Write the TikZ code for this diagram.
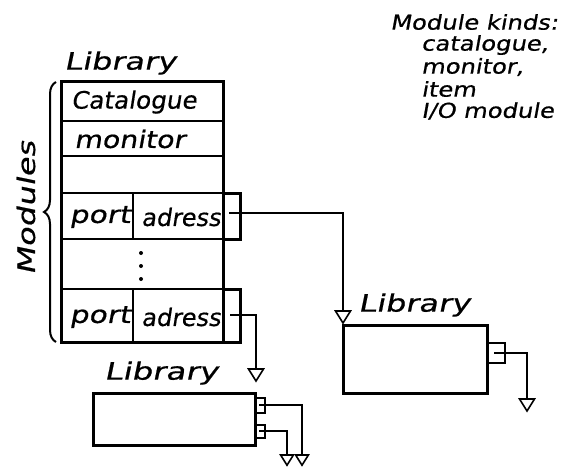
\documentclass[tikz,border=0pt]{standalone}
\usepackage{fontspec}
\usepackage{graphicx}
\newfontfamily\hand[FakeSlant=0.18,FakeStretch=1.18,FakeBold=0.6]{DejaVu Sans}
\newcommand\sx[2]{\scalebox{#1}[1]{#2}}
\usetikzlibrary{decorations.pathreplacing}
\tikzset{
  box/.style={line width=3pt},
  inner/.style={line width=2pt},
  wire/.style={line width=1.6pt},
  lbl/.style={font=\hand\fontsize{24}{26}\selectfont, inner sep=0pt},
  note/.style={font=\hand\fontsize{20.5}{23}\selectfont, inner sep=0pt, anchor=west},
  gnd/.pic={\draw[line width=1.6pt, fill=white] (-7.5,0) -- (7.5,0) -- (0,12) -- cycle;}
}
\begin{document}
\begin{tikzpicture}[x=1pt,y=-1pt]
\useasboundingbox[fill=white] (0,0) rectangle (569,468);

% main library
\node[lbl] (libA) at (120,63) {\sx{1.13}{Library}};
\coordinate (mTL) at (61,82);
\coordinate (mBR) at (223,342);
\draw[inner] (61,121) -- (223,121);
\draw[inner] (61,156) -- (223,156);
\draw[inner] (61,193) -- (240,193);
\draw[inner] (61,239) -- (240,239);
\draw[inner] (61,289) -- (240,289);
\draw[inner] (133,193) -- (133,239);
\draw[inner] (133,289) -- (133,342);
\draw[box] (223,193) rectangle (240,239);
\draw[box] (223,289) rectangle (240,342);
\draw[box] (mTL) rectangle (mBR);

\node[lbl, anchor=west] (cat) at (71,102) {\sx{0.87}{Catalogue}};
\node[lbl, anchor=west] (mon) at (74,139) {monitor};
\node[lbl] (p1) at (100,217) {\sx{1.05}{port}};
\node[lbl] (a1) at (181,217) {\sx{0.85}{adress}};
\node[lbl] (p2) at (100,317) {\sx{1.05}{port}};
\node[lbl] (a2) at (181,317) {\sx{0.85}{adress}};
\fill (141,253) circle (2);
\fill (141,266) circle (2);
\fill (141,279) circle (2);

% brace and Modules
\draw[inner, decorate, decoration={brace, amplitude=12pt}] (56,342) -- (56,82);
\node[lbl, rotate=90] (mods) at (26,208) {\sx{1.14}{Modules}};

% right library
\node[lbl] (libB) at (414,305) {\sx{1.13}{Library}};
\draw[box] (343,325) rectangle (487,393);
\draw[inner] (487,343) rectangle (505,363);

% bottom library
\node[lbl] (libC) at (161,373) {\sx{1.15}{Library}};
\draw[box] (93,393) rectangle (255,445);
\draw[inner] (255,398) rectangle (265,413);
\draw[inner] (255,425) rectangle (265,438);

% connectors
\coordinate (s1) at (229,213);
\coordinate (g1) at (343,311);
\coordinate (s2) at (230,315);
\coordinate (g2) at (256,369);
\coordinate (s3) at (494,353);
\coordinate (g3) at (527,399);
\coordinate (s4) at (259,405);
\coordinate (g4) at (302,455);
\coordinate (s5) at (259,431);
\coordinate (g5) at (287,455);
\draw[wire] (s1) -| (g1);
\draw[wire] (s2) -| (g2);
\draw[wire] (s3) -| (g3);
\draw[wire] (s4) -| (g4);
\draw[wire] (s5) -| (g5);
\pic at (g1) {gnd};
\pic at (g2) {gnd};
\pic at (g3) {gnd};
\pic[scale=0.85] at (g4) {gnd};
\pic[scale=0.85] at (g5) {gnd};

% notes
\node[note] (n1) at (390,22) {Module kinds:};
\node[note] (n2) at (421,45) {catalogue,};
\node[note] (n3) at (421,67) {monitor,};
\node[note] (n4) at (421,89) {item};
\node[note] (n5) at (421,111) {I/O module};
\end{tikzpicture}
\end{document}
